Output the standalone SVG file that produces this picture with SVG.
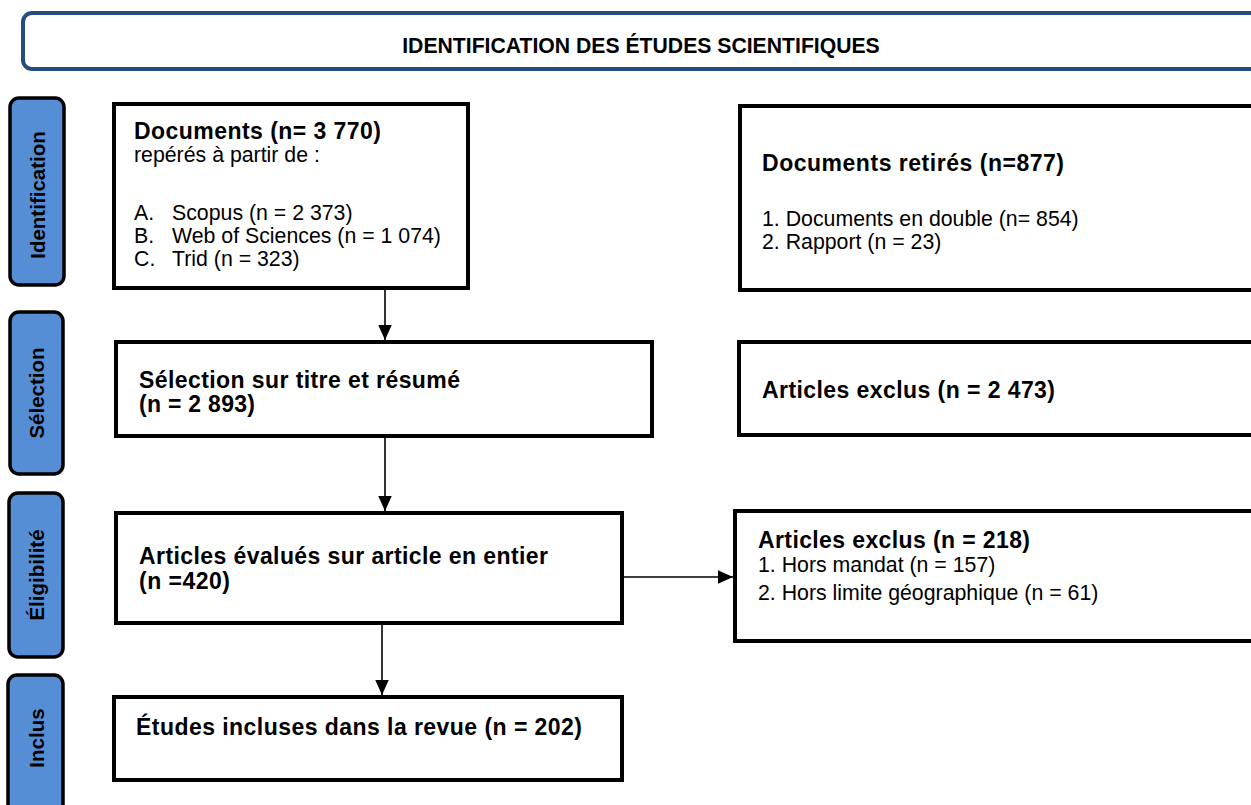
<svg xmlns="http://www.w3.org/2000/svg" width="1251" height="805" viewBox="0 0 1251 805">
<defs>
<style>
.box{fill:#fff;stroke:#000;stroke-width:4}
.lab{fill:#558ED5;stroke:#000;stroke-width:3.5}
.b{font-family:"Liberation Sans",Arial,sans-serif;font-weight:bold;font-size:23px;fill:#000}
.r{font-family:"Liberation Sans",Arial,sans-serif;font-size:21.3px;fill:#000}
.lt{font-family:"Liberation Sans",Arial,sans-serif;font-weight:bold;font-size:20.5px;fill:#000;text-anchor:middle}
.con{stroke:#000;stroke-width:1.6;fill:none}
</style>
<marker id="ah" viewBox="0 0 10 10" refX="10" refY="5" markerWidth="15" markerHeight="15" markerUnits="userSpaceOnUse" orient="auto">
<path d="M0,0.5 L10,5 L0,9.5 Z" fill="#000"/>
</marker>
</defs>
<rect width="1251" height="805" fill="#fff"/>

<g id="banner">
<rect x="23" y="13" width="1250" height="56" rx="9" fill="#fff" stroke="#264D80" stroke-width="4"/>
<text x="641" y="53" class="lt" style="font-size:21.2px">IDENTIFICATION DES ÉTUDES SCIENTIFIQUES</text>
</g>

<g id="label-identification">
<rect x="10" y="98" width="54" height="187" rx="9" class="lab"/>
<text class="lt" transform="translate(45,195) rotate(-90)">Identification</text>
</g>
<g id="label-selection">
<rect x="10" y="312" width="53" height="162" rx="9" class="lab"/>
<text class="lt" transform="translate(44,393) rotate(-90)">Sélection</text>
</g>
<g id="label-eligibilite">
<rect x="9" y="493" width="54" height="164" rx="9" class="lab"/>
<text class="lt" transform="translate(44,575) rotate(-90)">Éligibilité</text>
</g>
<g id="label-inclus">
<rect x="8" y="675" width="55" height="150" rx="9" class="lab"/>
<text class="lt" transform="translate(44,738) rotate(-90)">Inclus</text>
</g>

<g id="box-documents">
<rect x="114" y="104" width="354" height="184" class="box"/>
<text x="134" y="139" class="b" textLength="247">Documents (n= 3 770)</text>
<text x="134" y="162" class="r">repérés à partir de :</text>
<text x="134" y="220" class="r">A.</text><text x="172" y="220" class="r">Scopus (n = 2 373)</text>
<text x="134" y="243" class="r">B.</text><text x="172" y="243" class="r">Web of Sciences (n = 1 074)</text>
<text x="134" y="266" class="r">C.</text><text x="172" y="266" class="r">Trid (n = 323)</text>
</g>

<g id="box-retires">
<rect x="740" y="106" width="530" height="184" class="box"/>
<text x="762" y="171" class="b" textLength="302">Documents retirés (n=877)</text>
<text x="762" y="226" class="r">1. Documents en double (n= 854)</text>
<text x="762" y="249" class="r">2. Rapport (n = 23)</text>
</g>

<g id="box-selection">
<rect x="116" y="342" width="536" height="94" class="box"/>
<text x="139" y="388" class="b" textLength="321">Sélection sur titre et résumé</text>
<text x="139" y="412" class="b" textLength="116">(n = 2 893)</text>
</g>

<g id="box-exclus1">
<rect x="739" y="342" width="530" height="93" class="box"/>
<text x="762" y="398" class="b" textLength="293">Articles exclus (n = 2 473)</text>
</g>

<g id="box-evalues">
<rect x="116" y="513" width="506" height="110" class="box"/>
<text x="139" y="564" class="b" textLength="409">Articles évalués sur article en entier</text>
<text x="139" y="589" class="b" textLength="91">(n =420)</text>
</g>

<g id="box-exclus2">
<rect x="735" y="511" width="535" height="130" class="box"/>
<text x="758" y="548" class="b" textLength="272">Articles exclus (n = 218)</text>
<text x="758" y="572" class="r">1. Hors mandat (n = 157)</text>
<text x="758" y="600" class="r">2. Hors limite géographique (n = 61)</text>
</g>

<g id="box-incluses">
<rect x="114" y="697" width="508" height="83" class="box"/>
<text x="136" y="735" class="b" textLength="446">Études incluses dans la revue (n = 202)</text>
</g>

<g id="connectors">
<line x1="385" y1="290" x2="385" y2="340" class="con" marker-end="url(#ah)"/>
<line x1="385" y1="438" x2="385" y2="511" class="con" marker-end="url(#ah)"/>
<line x1="382" y1="625" x2="382" y2="695" class="con" marker-end="url(#ah)"/>
<line x1="624" y1="577" x2="733" y2="577" class="con" marker-end="url(#ah)"/>
</g>
</svg>
